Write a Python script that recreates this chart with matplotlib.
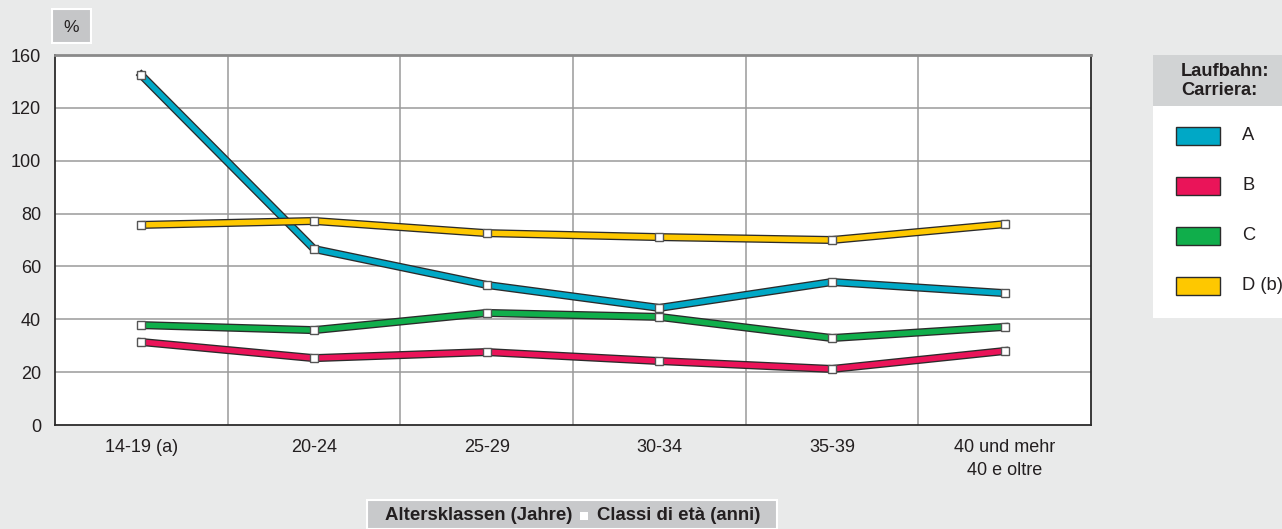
import matplotlib
matplotlib.use("Agg")
import matplotlib.pyplot as plt
import matplotlib.patheffects as pe
from matplotlib.patches import Rectangle

plt.rcParams['font.family'] = ['Liberation Sans', 'DejaVu Sans']

# Data
categories = ['14-19 (a)', '20-24', '25-29', '30-34', '35-39', '40 und mehr\n40 e oltre']
series_names = ['A', 'B', 'C', 'D (b)']
values_a = [132.4, 66.6, 53.0, 44.3, 54.1, 49.9]
values_b = [31.4, 25.3, 27.6, 24.2, 21.2, 28.0]
values_c = [37.8, 35.9, 42.4, 40.9, 32.9, 37.1]
values_d = [75.7, 77.2, 72.6, 71.1, 70.0, 76.0]
y_ticks = [0, 20, 40, 60, 80, 100, 120, 140]
y_tick_labels = ['0', '20', '40', '60', '80', '100', '120', '160']

colors = ['#00a8c6', '#ea1459', '#10ae4b', '#fec800']
text_col = '#231f20'
bg = '#e9eaea'

fig = plt.figure(figsize=(12.82, 5.29), dpi=100, facecolor=bg)
W, H = 1282, 529

def fx(px):
	return px / W

def fy(py):
	return 1 - py / H

ax = fig.add_axes([fx(55), fy(425), fx(1091) - fx(55), fy(55) - fy(425)])
ax.set_facecolor('white')

xs = [i + 0.5 for i in range(len(categories))]
# draw A before D so D sits on top where they cross, as in the original
for vals, col in [(values_c, colors[2]), (values_b, colors[1]), (values_a, colors[0]), (values_d, colors[3])]:
	ax.plot(xs, vals, color=col, lw=3.9, solid_joinstyle='miter', zorder=3,
		path_effects=[pe.Stroke(linewidth=5.8, foreground='#2b2b2b'), pe.Normal()])
	ax.plot(xs, vals, ls='none', marker='s', ms=5.5, mfc='white', mec='#555555', mew=1.0, zorder=4)

ax.set_xlim(0, len(categories))
ax.set_ylim(0, 140)
ax.set_yticks(y_ticks)
ax.set_yticklabels(y_tick_labels)
ax.set_xticks(xs)
ax.set_xticklabels(categories, linespacing=1.45)
ax.tick_params(axis='both', length=0, labelsize=13, labelcolor=text_col)
ax.tick_params(axis='y', pad=10)
ax.tick_params(axis='x', pad=10)

# gridlines
for y in y_ticks[1:-1]:
	ax.axhline(y, color='#9a9a9a', lw=1.1, zorder=1)
for x in range(1, len(categories)):
	ax.axvline(x, color='#9a9a9a', lw=1.1, zorder=1)

for s in ['left', 'bottom', 'right']:
	ax.spines[s].set_color('#2b2b2b')
	ax.spines[s].set_linewidth(1.3)
ax.spines['top'].set_color('#8a8a8a')
ax.spines['top'].set_linewidth(2.0)

# "%" box
fig.patches.append(Rectangle((fx(52), fy(43)), fx(39), fy(9) - fy(43), transform=fig.transFigure,
	facecolor='#c5c6c8', edgecolor='white', lw=1.5))
fig.text(fx(71.5), fy(27), '%', ha='center', va='center', fontsize=12.5, color=text_col)

# x-axis title box
fig.patches.append(Rectangle((fx(367), fy(529)), fx(410), fy(500) - fy(529), transform=fig.transFigure,
	facecolor='#c8c9cb', edgecolor='white', lw=1.5))
fig.text(fx(572), fy(516), 'Altersklassen (Jahre)', ha='right', va='center', fontsize=13.4,
	fontweight='bold', color=text_col)
fig.patches.append(Rectangle((fx(580), fy(520)), fx(8), fy(512) - fy(520), transform=fig.transFigure,
	facecolor='white', edgecolor='none'))
fig.text(fx(597), fy(516), 'Classi di età (anni)', ha='left', va='center', fontsize=13.4,
	fontweight='bold', color=text_col)

# legend panel
fig.patches.append(Rectangle((fx(1153), fy(318)), fx(140), fy(55) - fy(318), transform=fig.transFigure,
	facecolor='white', edgecolor='none'))
fig.patches.append(Rectangle((fx(1153), fy(106)), fx(140), fy(55) - fy(106), transform=fig.transFigure,
	facecolor='#d1d3d4', edgecolor='none'))
fig.text(fx(1181), fy(81), 'Laufbahn:\nCarriera:', ha='left', va='center', fontsize=13.2,
	fontweight='bold', color=text_col, linespacing=1.1, multialignment='left')
for i, (name, col) in enumerate(zip(series_names, colors)):
	yc = 136 + i * 50
	fig.patches.append(Rectangle((fx(1176), fy(yc + 9)), fx(44), fy(yc - 9) - fy(yc + 9),
		transform=fig.transFigure, facecolor=col, edgecolor='#2b2b2b', lw=1.0))
	fig.text(fx(1242), fy(yc), name, ha='left', va='center', fontsize=13.2, color=text_col)

fig.savefig('out.png', dpi=100, facecolor=bg)
